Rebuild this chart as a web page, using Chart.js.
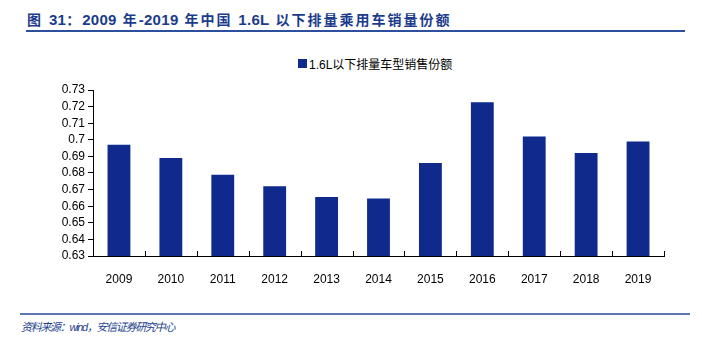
<!DOCTYPE html>
<html>
<head>
<meta charset="utf-8">
<script src="https://cdn.jsdelivr.net/npm/chart.js@4"></script>
<style>
  html, body { margin: 0; padding: 0; background: #fff; }
  body { width: 702px; height: 345px; position: relative; overflow: hidden;
         font-family: "Liberation Sans", "Noto Sans CJK SC", sans-serif; }
  .title { position: absolute; left: 27px; top: 9px; font-size: 14px; font-weight: bold;
           color: #1b3c8c; letter-spacing: 2px; white-space: nowrap; }
  .title b { font-size: 15px; letter-spacing: 0.3px; }
  .title-rule { position: absolute; left: 26px; top: 30px; width: 659px; height: 2px; background: #2c4f9e; }
  .legend { position: absolute; left: 298px; top: 55px; font-size: 12px; color: #000;
            white-space: nowrap; display: flex; align-items: center; }
  .legend i { display: inline-block; width: 9px; height: 9px; background: #0f2a8c; margin-right: 2px; }
  .foot-rule { position: absolute; left: 20px; top: 313px; width: 670px; height: 2px; background: #5b76b4; }
  .source { position: absolute; left: 21px; top: 318px; font-size: 11px; font-style: italic;
            color: #23428e; white-space: nowrap; letter-spacing: -1.3px; }
  #wrap { position: absolute; left: 0; top: 40px; width: 702px; height: 246px; }
</style>
</head>
<body>
<div class="title">图 <b>31</b>：<b>2009</b> 年<b>-2019</b> 年中国 <b>1.6L</b> 以下排量乘用车销量份额</div>
<div class="title-rule"></div>
<div class="legend"><i></i>1.6L以下排量车型销售份额</div>
<div id="wrap"><canvas id="chart"></canvas></div>
<div class="foot-rule"></div>
<div class="source">资料来源：wind，安信证券研究中心</div>

<script>
const years = ['2009', '2010', '2011', '2012', '2013', '2014', '2015', '2016', '2017', '2018', '2019'];
const shareBelow16L = [0.697, 0.689, 0.679, 0.672, 0.6655, 0.6647, 0.686, 0.7226, 0.702, 0.692, 0.699];
const yTicks = [0.63, 0.64, 0.65, 0.66, 0.67, 0.68, 0.69, 0.7, 0.71, 0.72, 0.73];

const BAR_COLOR = '#0f2a8c';

// small upward tick marks between the categories on the x axis
const categoryTicks = {
    id: 'categoryTicks',
    afterDraw(chart) {
        const x = chart.scales.x;
        const ctx = chart.ctx;
        const bottom = chart.chartArea.bottom;
        const half = (x.getPixelForValue(1) - x.getPixelForValue(0)) / 2;
        ctx.save();
        ctx.strokeStyle = '#000';
        ctx.lineWidth = 1;
        ctx.beginPath();
        for (let i = 0; i < years.length; i++) {
            const px = Math.round(x.getPixelForValue(i) + half) + 0.5;
            ctx.moveTo(px, bottom);
            ctx.lineTo(px, bottom - 5);
        }
        ctx.stroke();
        ctx.restore();
    }
};

new Chart(document.getElementById('chart').getContext('2d'), {
    type: 'bar',
    data: {
        labels: years,
        datasets: [{
            label: '1.6L以下排量车型销售份额',
            data: shareBelow16L,
            backgroundColor: BAR_COLOR,
            borderWidth: 0,
            categoryPercentage: 0.88,
            barPercentage: 0.5
        }]
    },
    options: {
        responsive: true,
        maintainAspectRatio: false,
        animation: false,
        layout: { padding: { left: 0, right: 38, top: 50, bottom: 0 } },
        plugins: {
            legend: { display: false },
            tooltip: { enabled: false }
        },
        scales: {
            x: {
                offset: true,
                grid: { display: false },
                border: { display: true, color: '#000', width: 1 },
                ticks: {
                    color: '#000',
                    padding: 8,
                    font: { family: 'Liberation Sans', size: 12 }
                },
                afterFit(scale) { scale.height = 30; }
            },
            y: {
                min: 0.63,
                max: 0.73,
                afterBuildTicks(scale) { scale.ticks = yTicks.map(v => ({ value: v })); },
                grid: { drawOnChartArea: false, drawTicks: true, tickLength: 5, color: '#000' },
                border: { display: true, color: '#000', width: 1 },
                ticks: {
                    color: '#000',
                    padding: 3,
                    autoSkip: false,
                    font: { family: 'Liberation Sans', size: 12 },
                    callback: v => String(Math.round(v * 100) / 100)
                },
                afterFit(scale) { scale.width = 93; }
            }
        }
    },
    plugins: [categoryTicks]
});
</script>
</body>
</html>
